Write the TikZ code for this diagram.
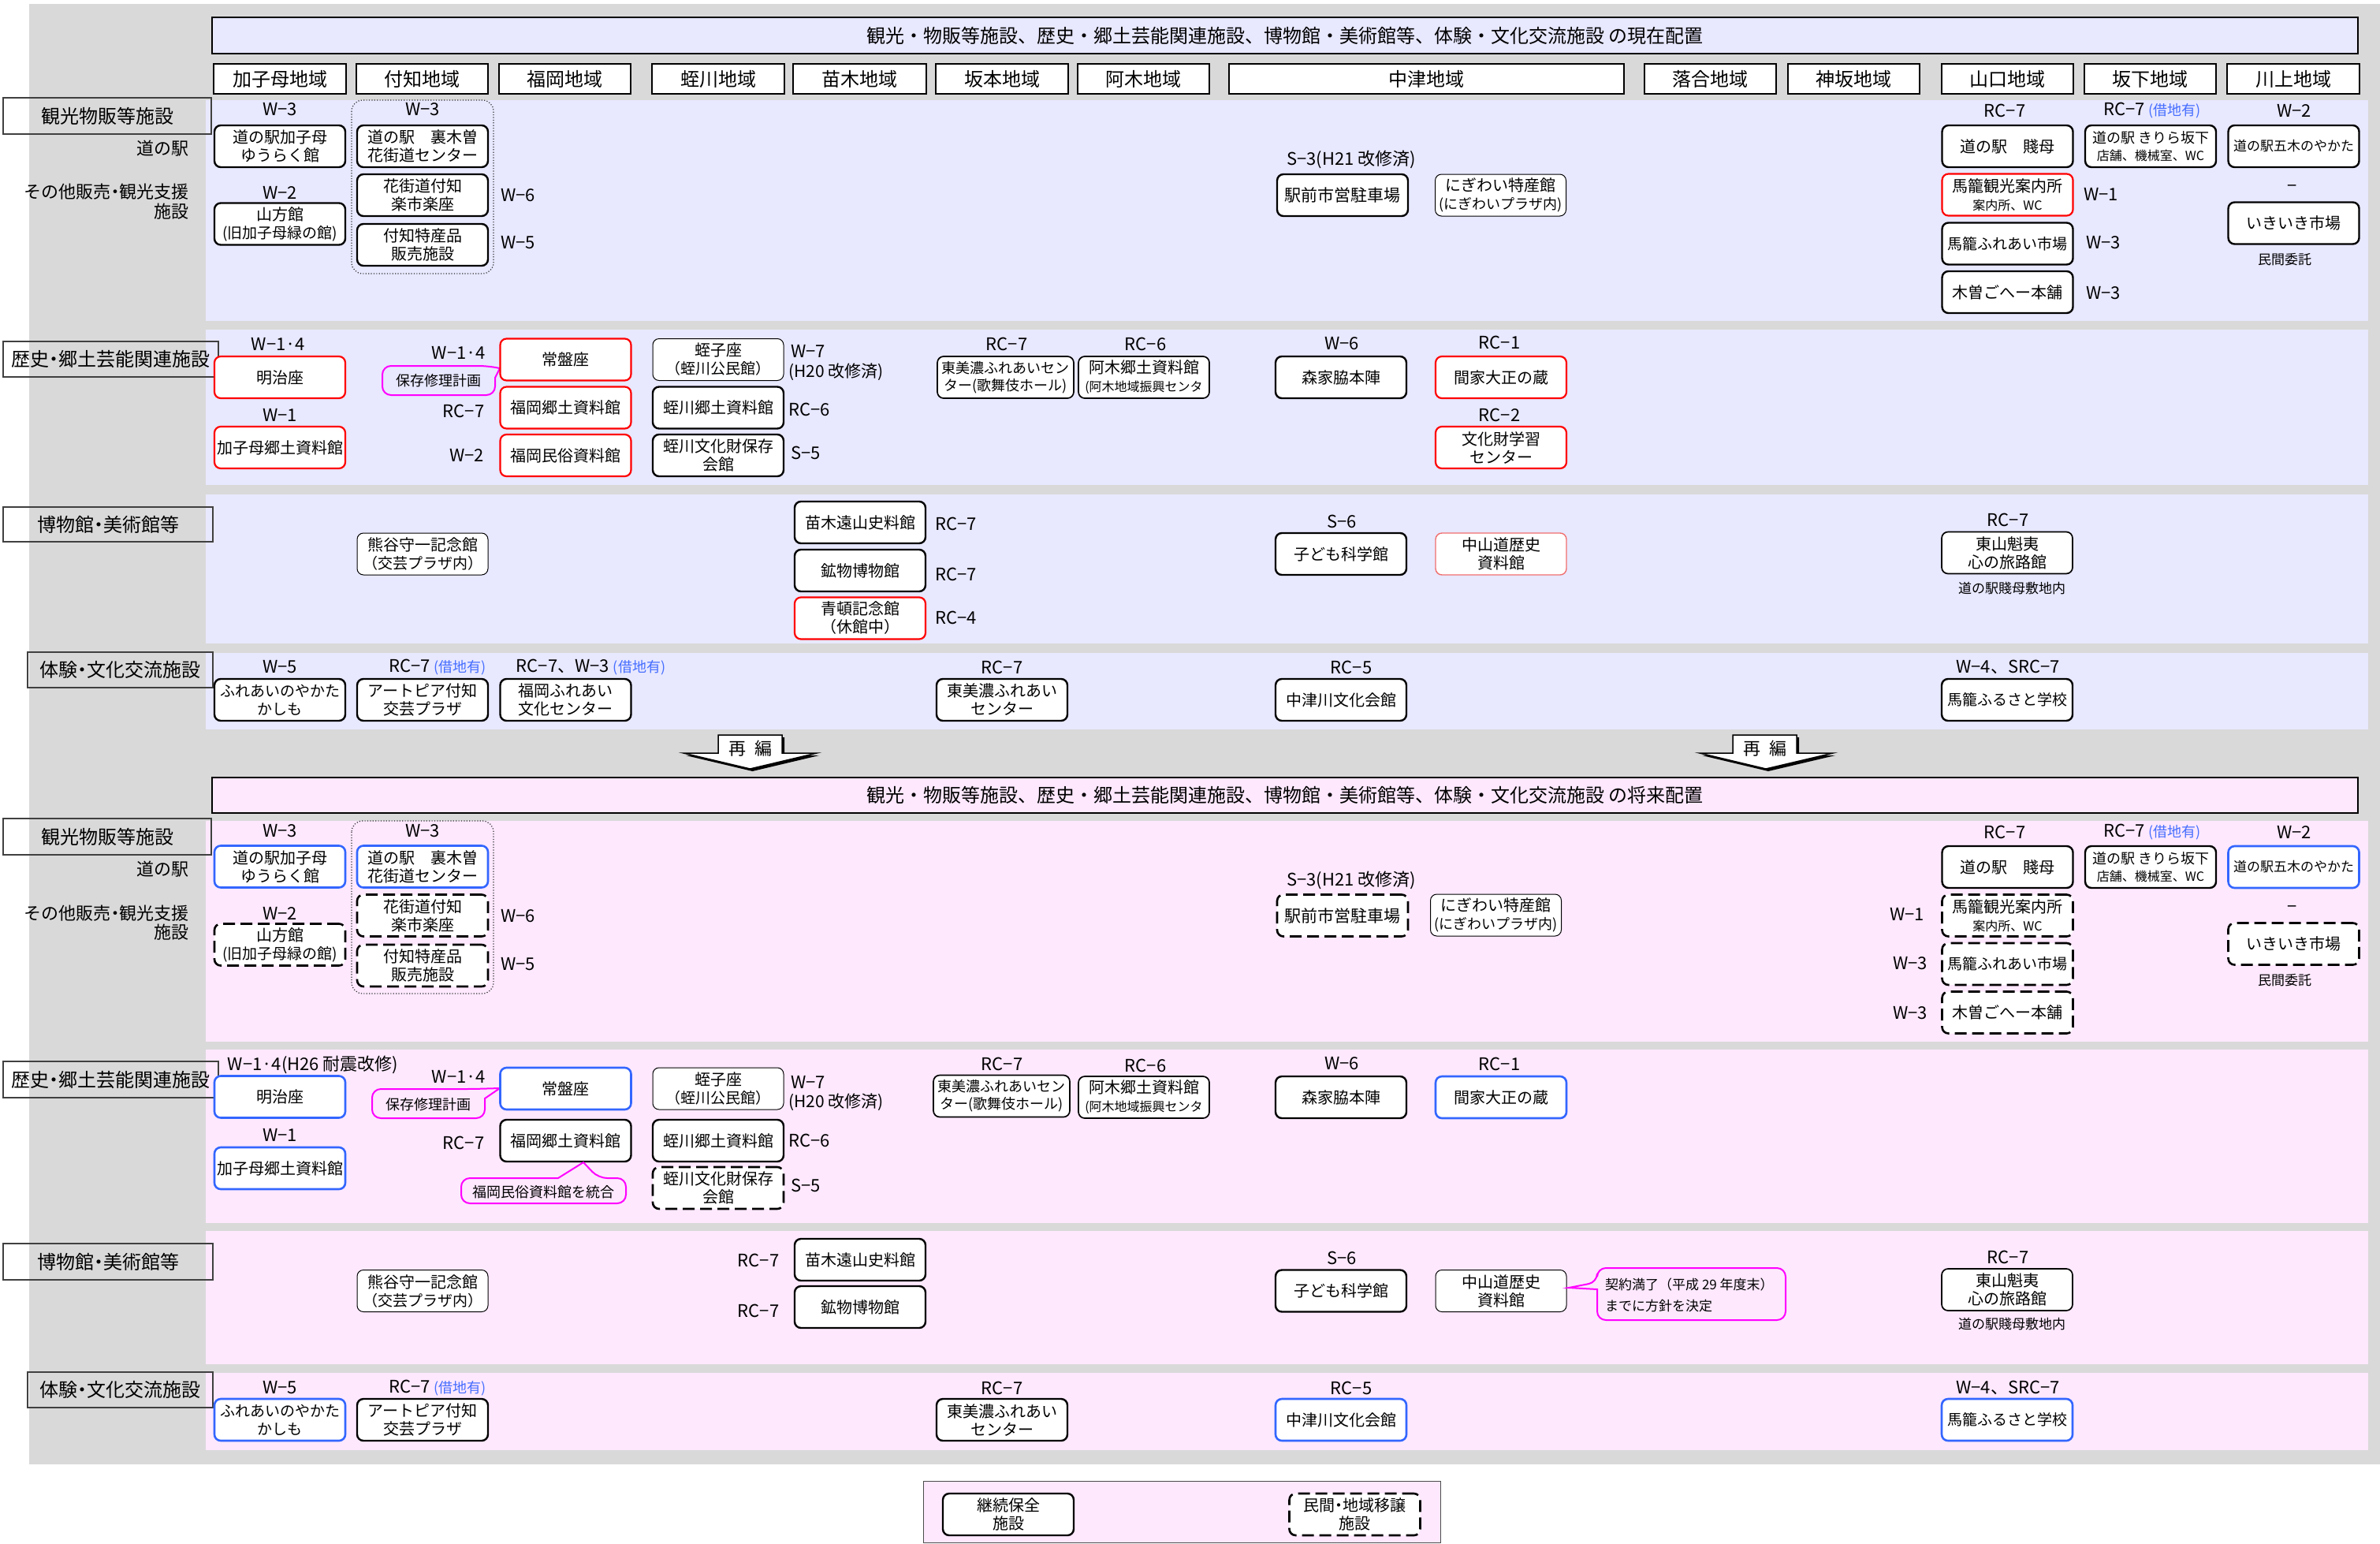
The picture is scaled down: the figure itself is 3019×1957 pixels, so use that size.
\documentclass[tikz,border=0pt]{standalone}
\usepackage{fontspec}
\setmainfont{Noto Sans CJK JP}
\definecolor{grayc}{RGB}{217,217,217}
\definecolor{lav}{RGB}{232,232,255}
\definecolor{pnk}{RGB}{253,232,253}
\definecolor{bluec}{RGB}{51,102,255}
\definecolor{bluet}{RGB}{70,110,255}
\definecolor{redc}{RGB}{255,0,0}
\definecolor{lred}{RGB}{240,110,110}
\definecolor{magc}{RGB}{255,0,255}
\newcommand\fs[2]{\fontsize{#1}{#2}\selectfont}
\newcommand\md{\makebox[0.5em]{・}}
\newcommand\shk{{\color{bluet}\fs{18}{20}(借地有)}}
\begin{document}
\begin{tikzpicture}[x=1pt,y=-1pt,
 bx/.style={rectangle, rounded corners=8pt, fill=white, minimum width=166pt, minimum height=53pt, inner sep=0pt, align=center, font=\fs{20}{23}},
 thk/.style={bx, draw=black, line width=2.4pt},
 mbx/.style={bx, draw=black, line width=1.7pt},
 thn/.style={bx, draw=black, line width=1pt},
 rbx/.style={bx, draw=redc, line width=2.2pt},
 bbx/.style={bx, draw=bluec, line width=2.6pt},
 dbx/.style={bx, draw=black, line width=2.6pt, dash pattern=on 15pt off 7pt},
 lbl/.style={inner sep=0pt, font=\fs{22}{24}},
 sml/.style={inner sep=0pt, font=\fs{17}{19}},
 reg/.style={rectangle, draw=black, line width=2pt, fill=white, minimum height=38pt, inner sep=0pt, font=\fs{24}{26}},
 cat/.style={rectangle, draw=black!75, line width=1.3pt, inner sep=0pt, font=\fs{24}{26}},
 ttl/.style={rectangle, draw=black, line width=2.5pt, minimum width=2722pt, inner sep=0pt, font=\fs{24}{26}},
 callout/.style={draw=magc, line width=2pt, rounded corners=11pt},
 cotxt/.style={inner sep=0pt, font=\fs{18}{20}},
 grp/.style={draw=black!80, line width=1.2pt, dash pattern=on 1.2pt off 2.2pt, rounded corners=14pt},
 arr/.style={fill=white, draw=black, line width=1.5pt, line join=miter},
]
\useasboundingbox (0,0) rectangle (3019,1957);
\fill[white] (0,0) rectangle (3019,1957);
\fill[grayc] (37,5) rectangle (3019,1857);
% ---------- panels
\fill[lav] (261,127) rectangle (3004,407);
\fill[lav] (261,418) rectangle (3004,615);
\fill[lav] (261,627) rectangle (3004,816);
\fill[lav] (261,828) rectangle (3004,925);
\fill[pnk] (261,1041) rectangle (3004,1321);
\fill[pnk] (261,1331) rectangle (3004,1551);
\fill[pnk] (261,1561) rectangle (3004,1730);
\fill[pnk] (261,1741) rectangle (3004,1839);
% ---------- titles
\node[ttl, fill=lav, minimum height=46pt] (t1) at (1630,45) {観光・物販等施設、歴史・郷土芸能関連施設、博物館・美術館等、体験・文化交流施設 の現在配置};
\node[ttl, fill=pnk, minimum height=45pt] (t2) at (1630,1008.5) {観光・物販等施設、歴史・郷土芸能関連施設、博物館・美術館等、体験・文化交流施設 の将来配置};
% ---------- region headers
\node[reg, minimum width=168pt] (r1) at (355,100) {加子母地域};
\node[reg, minimum width=167pt] (r2) at (535.5,100) {付知地域};
\node[reg, minimum width=167pt] (r3) at (716.5,100) {福岡地域};
\node[reg, minimum width=168pt] (r4) at (911,100) {蛭川地域};
\node[reg, minimum width=169pt] (r5) at (1090.5,100) {苗木地域};
\node[reg, minimum width=168pt] (r6) at (1271,100) {坂本地域};
\node[reg, minimum width=167pt] (r7) at (1450.5,100) {阿木地域};
\node[reg, minimum width=501pt] (r8) at (1809.5,100) {中津地域};
\node[reg, minimum width=167pt] (r9) at (2169.5,100) {落合地域};
\node[reg, minimum width=167pt] (r10) at (2351.5,100) {神坂地域};
\node[reg, minimum width=167pt] (r11) at (2546.5,100) {山口地域};
\node[reg, minimum width=167pt] (r12) at (2727.5,100) {坂下地域};
\node[reg, minimum width=168pt] (r13) at (2909,100) {川上地域};
% ---------- category labels (current)
\node[cat, minimum width=264pt, minimum height=46pt] (ka1) at (136,147) {観光物販等施設};
\node[lbl, anchor=east] (kb1) at (240,188) {道の駅};
\node[lbl, anchor=east] (kc1) at (240,243) {その他販売\md 観光支援};
\node[lbl, anchor=east] (kd1) at (240,268) {施設};
\node[cat, minimum width=273pt, minimum height=45pt] (ke1) at (140.5,455.5) {歴史\md 郷土芸能関連施設};
\node[cat, minimum width=266pt, minimum height=44pt] (kf1) at (137,665) {博物館\md 美術館等};
\node[cat, minimum width=235pt, minimum height=45pt] (kg1) at (152.5,849.5) {体験\md 文化交流施設};
% ---------- category labels (future)
\node[cat, minimum width=264pt, minimum height=46pt] (ka2) at (136,1061) {観光物販等施設};
\node[lbl, anchor=east] (kb2) at (240,1102) {道の駅};
\node[lbl, anchor=east] (kc2) at (240,1158) {その他販売\md 観光支援};
\node[lbl, anchor=east] (kd2) at (240,1182) {施設};
\node[cat, minimum width=273pt, minimum height=46pt] (ke2) at (140.5,1369) {歴史\md 郷土芸能関連施設};
\node[cat, minimum width=266pt, minimum height=46pt] (kf2) at (137,1600) {博物館\md 美術館等};
\node[cat, minimum width=235pt, minimum height=45pt] (kg2) at (152.5,1762.5) {体験\md 文化交流施設};

% ================= CURRENT: section 1
\node[lbl] (l1) at (355,139) {W−3};
\node[thk] (a1) at (355,185.5) {道の駅加子母\\ゆうらく館};
\node[lbl] (l2) at (355,244) {W−2};
\node[thk] (a2) at (355,284) {山方館\\{\fs{19}{22}(旧加子母緑の館)}};
\draw[grp] (446,127) rectangle (626,347);
\node[lbl] (l3) at (536,139) {W−3};
\node[thk] (a3) at (536,185.5) {道の駅　裏木曽\\花街道センター};
\node[thk] (a4) at (536,247.5) {花街道付知\\楽市楽座};
\node[thk] (a5) at (536,310.5) {付知特産品\\販売施設};
\node[lbl, anchor=west] (l4) at (635,248) {W−6};
\node[lbl, anchor=west] (l5) at (635,308) {W−5};
\node[lbl] (l6) at (1714,202) {S−3(H21 改修済)};
\node[thk, font=\fs{21}{24}] (a6) at (1703,247.5) {駅前市営駐車場};
\node[thn] (a7) at (1903.5,247.5) {にぎわい特産館\\{\fs{18}{21}(にぎわいプラザ内)}};
\node[lbl] (l7) at (2543,140) {RC−7};
\node[lbl] (l8) at (2730,140) {RC−7 \shk};
\node[lbl] (l9) at (2910,140) {W−2};
\node[thk] (a8) at (2546.5,185.5) {道の駅　賤母};
\node[thk, font=\fs{18}{22}] (a9) at (2728,185.5) {道の駅 きりら坂下\\{\fs{16}{18}店舗、機械室、WC}};
\node[thk, font=\fs{17}{20}] (a10) at (2909.5,185.5) {道の駅五木のやかた};
\node[rbx] (a11) at (2546.5,247) {馬籠観光案内所\\{\fs{16}{18}案内所、WC}};
\node[lbl, anchor=west] (l10) at (2643,246) {W−1};
\node[thk, font=\fs{19}{22}] (a12) at (2546.5,309) {馬籠ふれあい市場};
\node[lbl, anchor=west] (l11) at (2646,308) {W−3};
\node[thk] (a13) at (2546.5,370.5) {木曽ごへー本舗};
\node[lbl, anchor=west] (l12) at (2646,372) {W−3};
\node[lbl] (l13) at (2908,239) {−};
\node[thk] (a14) at (2909.5,283) {いきいき市場};
\node[sml] (s1) at (2898,329) {民間委託};

% ================= CURRENT: section 2
\node[lbl] (l14) at (353,436) {W−1·4};
\node[rbx] (b1) at (355,478.5) {明治座};
\node[lbl] (l15) at (355,526) {W−1};
\node[rbx] (b2) at (355,567.5) {加子母郷土資料館};
\node[lbl] (l16) at (582,447) {W−1·4};
\node[cotxt] (c1) at (556.5,482.5) {保存修理計画};
\draw[callout] (628,479) -- (628,501) -- (485,501) -- (485,464) -- (618,464) [sharp corners] -- (634,467) -- cycle;
\node[rbx] (b3) at (717.5,456) {常盤座};
\node[lbl] (l17) at (588,521) {RC−7};
\node[rbx] (b4) at (717.5,517) {福岡郷土資料館};
\node[lbl] (l18) at (592,577) {W−2};
\node[rbx] (b5) at (717.5,577.5) {福岡民俗資料館};
\node[thn] (b6) at (911,456) {蛭子座\\{\fs{19}{22}（蛭川公民館）}};
\node[thk] (b7) at (911,517) {蛭川郷土資料館};
\node[thk] (b8) at (911,577.5) {蛭川文化財保存\\会館};
\node[lbl, anchor=west] (l19) at (1003,445) {W−7};
\node[lbl, anchor=west, font=\fs{21}{23}] (l20) at (1000,472) {(H20 改修済)};
\node[lbl, anchor=west] (l21) at (1000,519) {RC−6};
\node[lbl, anchor=west] (l22) at (1003,574) {S−5};
\node[lbl] (l23) at (1277,436) {RC−7};
\node[mbx, minimum width=173pt, font=\fs{18}{22}] (b9) at (1275.5,478.5) {東美濃ふれあいセン\\ター(歌舞伎ホール)};
\node[lbl] (l24) at (1453,436) {RC−6};
\node[mbx] (b10) at (1451,478.5) {阿木郷土資料館\\{\fs{16}{19}(阿木地域振興センタ}};
\node[lbl] (l25) at (1702,436) {W−6};
\node[thk] (b11) at (1701,478.5) {森家脇本陣};
\node[lbl] (l26) at (1902,434) {RC−1};
\node[rbx] (b12) at (1904,478.5) {間家大正の蔵};
\node[lbl] (l27) at (1902,526) {RC−2};
\node[rbx] (b13) at (1904,567.5) {文化財学習\\センター};

% ================= CURRENT: section 3
\node[thn] (c2) at (536,702.5) {熊谷守一記念館\\{\fs{19}{22}（交芸プラザ内）}};
\node[thk] (c3) at (1091,662.5) {苗木遠山史料館};
\node[lbl, anchor=west] (l28) at (1186,664) {RC−7};
\node[thk] (c4) at (1091,723.5) {鉱物博物館};
\node[lbl, anchor=west] (l29) at (1186,728) {RC−7};
\node[rbx] (c5) at (1091,784) {青頓記念館\\（休館中）};
\node[lbl, anchor=west] (l30) at (1186,783) {RC−4};
\node[lbl] (l31) at (1702,661) {S−6};
\node[thk] (c6) at (1701,702.5) {子ども科学館};
\node[bx, draw=lred, line width=1.4pt] (c7) at (1904,702.5) {中山道歴史\\資料館};
\node[lbl] (l32) at (2547,659) {RC−7};
\node[mbx] (c8) at (2546,701) {東山魁夷\\心の旅路館};
\node[sml] (s2) at (2552,746) {道の駅賤母敷地内};

% ================= CURRENT: section 4
\node[lbl] (l33) at (355,846) {W−5};
\node[thk, font=\fs{19}{23}] (d1) at (355,887.5) {ふれあいのやかた\\かしも};
\node[lbl] (l34) at (555,846) {RC−7 \shk};
\node[thk] (d2) at (536,887.5) {アートピア付知\\交芸プラザ};
\node[lbl] (l35) at (749.5,846) {RC−7、W−3 \shk};
\node[thk] (d3) at (717.5,887.5) {福岡ふれあい\\文化センター};
\node[lbl] (l36) at (1271,846) {RC−7};
\node[thk] (d4) at (1271,887.5) {東美濃ふれあい\\センター};
\node[lbl] (l37) at (1714,846) {RC−5};
\node[thk] (d5) at (1701,887.5) {中津川文化会館};
\node[lbl] (l38) at (2547,846) {W−4、SRC−7};
\node[thk, font=\fs{19}{22}] (d6) at (2546,887.5) {馬籠ふるさと学校};

% ================= arrows
\fill[black, xshift=3pt, yshift=-3pt] (911,932) -- (992,932) -- (992,955) -- (1036,955) -- (951.5,975) -- (867,955) -- (911,955) -- cycle;
\filldraw[arr] (911,932) -- (992,932) -- (992,955) -- (1036,955) -- (951.5,975) -- (867,955) -- (911,955) -- cycle;
\node[lbl] (ar1) at (951.5,949) {再\hspace{0.5em}編};
\fill[black, xshift=3pt, yshift=-3pt] (2198,932) -- (2279,932) -- (2279,955) -- (2325,955) -- (2240,975) -- (2156,955) -- (2198,955) -- cycle;
\filldraw[arr] (2198,932) -- (2279,932) -- (2279,955) -- (2325,955) -- (2240,975) -- (2156,955) -- (2198,955) -- cycle;
\node[lbl] (ar2) at (2238.5,949) {再\hspace{0.5em}編};

% ================= FUTURE: section 1
\node[lbl] (m1) at (355,1054) {W−3};
\node[bbx] (e1) at (355,1099) {道の駅加子母\\ゆうらく館};
\node[lbl] (m2) at (355,1158) {W−2};
\node[dbx] (e2) at (355,1198) {山方館\\{\fs{19}{22}(旧加子母緑の館)}};
\draw[grp] (446,1041) rectangle (626,1260);
\node[lbl] (m3) at (536,1054) {W−3};
\node[bbx] (e3) at (536,1099) {道の駅　裏木曽\\花街道センター};
\node[dbx] (e4) at (536,1161) {花街道付知\\楽市楽座};
\node[dbx] (e5) at (536,1224.5) {付知特産品\\販売施設};
\node[lbl, anchor=west] (m4) at (635,1162) {W−6};
\node[lbl, anchor=west] (m5) at (635,1223) {W−5};
\node[lbl] (m6) at (1714,1116) {S−3(H21 改修済)};
\node[dbx, font=\fs{21}{24}] (e6) at (1703,1161) {駅前市営駐車場};
\node[thn] (e7) at (1897.5,1160.5) {にぎわい特産館\\{\fs{18}{21}(にぎわいプラザ内)}};
\node[lbl] (m7) at (2543,1055) {RC−7};
\node[lbl] (m8) at (2730,1055) {RC−7 \shk};
\node[lbl] (m9) at (2910,1055) {W−2};
\node[thk] (e8) at (2546.5,1099.5) {道の駅　賤母};
\node[thk, font=\fs{18}{22}] (e9) at (2728,1099.5) {道の駅 きりら坂下\\{\fs{16}{18}店舗、機械室、WC}};
\node[bbx, font=\fs{17}{20}] (e10) at (2909.5,1099.5) {道の駅五木のやかた};
\node[dbx] (e11) at (2546.5,1161) {馬籠観光案内所\\{\fs{16}{18}案内所、WC}};
\node[lbl] (m10) at (2419,1159) {W−1};
\node[dbx, font=\fs{19}{22}] (e12) at (2546.5,1222.5) {馬籠ふれあい市場};
\node[lbl] (m11) at (2423,1222) {W−3};
\node[dbx] (e13) at (2546.5,1284) {木曽ごへー本舗};
\node[lbl] (m12) at (2423,1285) {W−3};
\node[lbl] (m13) at (2908,1153) {−};
\node[dbx] (e14) at (2909.5,1197) {いきいき市場};
\node[sml] (s3) at (2898,1243) {民間委託};

% ================= FUTURE: section 2
\node[lbl] (m14) at (397,1350) {W−1·4(H26 耐震改修)};
\node[bbx] (f1) at (355,1391) {明治座};
\node[lbl] (m15) at (582,1365) {W−1·4};
\node[cotxt] (c9) at (543.5,1401) {保存修理計画};
\draw[callout] (615,1393) -- (615,1418) -- (472,1418) -- (472,1381) -- (600,1381) [sharp corners] -- (634,1380) -- cycle;
\node[bbx] (f2) at (717.5,1380.5) {常盤座};
\node[thn] (f3) at (911,1380.5) {蛭子座\\{\fs{19}{22}（蛭川公民館）}};
\node[lbl] (m16) at (355,1439) {W−1};
\node[bbx] (f4) at (355,1481.5) {加子母郷土資料館};
\node[lbl] (m17) at (588,1449) {RC−7};
\node[thk] (f5) at (717.5,1446.5) {福岡郷土資料館};
\node[cotxt] (c10) at (689.5,1512) {福岡民俗資料館を統合};
\draw[callout] (708,1494) -- (585,1494) -- (585,1526) -- (794,1526) -- (794,1494) -- (759,1494) [sharp corners] -- (740,1474) -- cycle;
\node[thk] (f6) at (911,1446.5) {蛭川郷土資料館};
\node[dbx] (f7) at (911,1506.5) {蛭川文化財保存\\会館};
\node[lbl, anchor=west] (m18) at (1003,1372) {W−7};
\node[lbl, anchor=west, font=\fs{21}{23}] (m19) at (1000,1398) {(H20 改修済)};
\node[lbl, anchor=west] (m20) at (1000,1446) {RC−6};
\node[lbl, anchor=west] (m21) at (1003,1503) {S−5};
\node[lbl] (m22) at (1271,1349) {RC−7};
\node[mbx, minimum width=173pt, font=\fs{18}{22}] (f8) at (1270.5,1390) {東美濃ふれあいセン\\ター(歌舞伎ホール)};
\node[lbl] (m23) at (1453,1351) {RC−6};
\node[mbx] (f9) at (1451,1391.5) {阿木郷土資料館\\{\fs{16}{19}(阿木地域振興センタ}};
\node[lbl] (m24) at (1702,1349) {W−6};
\node[thk] (f10) at (1701,1391.5) {森家脇本陣};
\node[lbl] (m25) at (1902,1349) {RC−1};
\node[bbx] (f11) at (1904,1391.5) {間家大正の蔵};

% ================= FUTURE: section 3
\node[thn] (g1) at (536,1637) {熊谷守一記念館\\{\fs{19}{22}（交芸プラザ内）}};
\node[lbl] (m26) at (962,1598) {RC−7};
\node[lbl] (m27) at (962,1662) {RC−7};
\node[thk] (g2) at (1091,1597.5) {苗木遠山史料館};
\node[thk] (g3) at (1091,1657.5) {鉱物博物館};
\node[lbl] (m28) at (1702,1595) {S−6};
\node[thk] (g4) at (1701,1637) {子ども科学館};
\node[thn] (g5) at (1904,1637) {中山道歴史\\資料館};
\node[inner sep=0pt, anchor=west, align=left, font=\fs{17}{27}] (c11) at (2036,1642.5) {契約満了（平成 29 年度末）\\までに方針を決定};
\draw[callout] (2026,1635) -- (2026,1674) -- (2265,1674) -- (2265,1608) -- (2026,1608) -- (2026,1626) [sharp corners] -- (1990,1633) -- cycle;
\node[lbl] (m29) at (2547,1594) {RC−7};
\node[mbx] (g6) at (2546,1635.5) {東山魁夷\\心の旅路館};
\node[sml] (s4) at (2552,1679) {道の駅賤母敷地内};

% ================= FUTURE: section 4
\node[lbl] (m30) at (355,1760) {W−5};
\node[bbx, font=\fs{19}{23}] (h1) at (355,1800.5) {ふれあいのやかた\\かしも};
\node[lbl] (m31) at (555,1760) {RC−7 \shk};
\node[thk] (h2) at (536,1800.5) {アートピア付知\\交芸プラザ};
\node[lbl] (m32) at (1271,1760) {RC−7};
\node[thk] (h3) at (1271,1800.5) {東美濃ふれあい\\センター};
\node[lbl] (m33) at (1714,1760) {RC−5};
\node[bbx] (h4) at (1701,1800.5) {中津川文化会館};
\node[lbl] (m34) at (2547,1760) {W−4、SRC−7};
\node[bbx, font=\fs{19}{22}] (h5) at (2546,1800.5) {馬籠ふるさと学校};

% ================= legend
\draw[fill=pnk, draw=black!70, line width=1pt] (1171,1878) rectangle (1827,1956);
\node[thk] (k1) at (1279,1920.5) {継続保全\\施設};
\node[dbx] (k2) at (1718.5,1920.5) {民間\md 地域移譲\\施設};
\end{tikzpicture}
\end{document}
